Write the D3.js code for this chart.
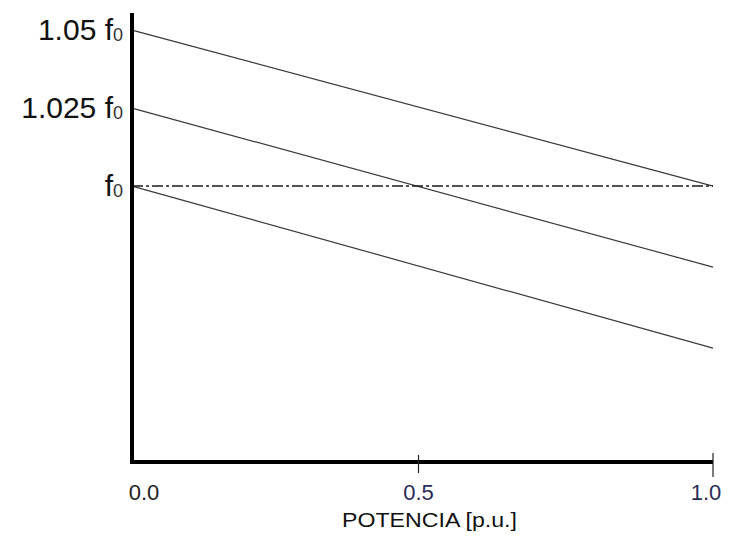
<!DOCTYPE html>
<html>
<head>
<meta charset="utf-8">
<script src="https://cdn.jsdelivr.net/npm/d3@7"></script>
<style>
  html, body { margin: 0; padding: 0; background: #fff; }
  svg { display: block; font-family: "Liberation Sans", Arial, sans-serif; }
</style>
</head>
<body>
<svg id="chart" width="731" height="537"></svg>
<script>
// Power axis (p.u.)
const powerTicks = [0.0, 0.5, 1.0];
const powerTickLabels = ["0.0", "0.5", "1.0"];
const powerTickColors = ["#222222", "#2a2a58", "#2a2a58"];

// Frequency reference levels (multiples of f0)
const freqLevels = [1.05, 1.025, 1.0];
const freqLabelMain = ["1.05 f", "1.025 f", "f"];

// Droop lines: frequency at P = 0 and at P = 1
const droopStart = [1.05, 1.025, 1.0];
const droopEnd = [1.0, 0.974, 0.948];

// Nominal frequency (dash-dot reference)
const nominal = 1.0;

const svg = d3.select("#chart");

const x = d3.scaleLinear().domain([0, 1]).range([132, 713]);
const y = d3.scaleLinear().domain([0.9115, 1.0555]).range([462, 13]);

// Droop lines
const lineGen = d3.line().x(d => x(d[0])).y(d => y(d[1]));
droopStart.forEach((s, i) => {
  svg.append("path")
    .attr("d", lineGen([[0, s], [1, droopEnd[i]]]))
    .attr("fill", "none")
    .attr("stroke", "#3a3a3a")
    .attr("stroke-width", 1.2);
});

// Nominal frequency dash-dot line
svg.append("path")
  .attr("d", lineGen([[0, nominal], [1, nominal]]))
  .attr("fill", "none")
  .attr("stroke", "#1a1a1a")
  .attr("stroke-width", 1.4)
  .attr("stroke-dasharray", "11,3,3,3");

// Y axis (thick line, labels only)
svg.append("line")
  .attr("x1", x(0)).attr("x2", x(0))
  .attr("y1", y(1.0555)).attr("y2", y(0.9115) + 2)
  .attr("stroke", "#000").attr("stroke-width", 4);

freqLevels.forEach((v, i) => {
  const t = svg.append("text")
    .attr("x", 123)
    .attr("y", y(v) + 10)
    .attr("text-anchor", "end")
    .attr("font-size", 30)
    .attr("fill", "#111");
  t.append("tspan").text(freqLabelMain[i]);
  t.append("tspan").attr("font-size", 18).attr("dy", 1).attr("fill", "#333").text("0");
});

// X axis (thick line)
svg.append("line")
  .attr("x1", x(0) - 2).attr("x2", x(1))
  .attr("y1", y(0.9115)).attr("y2", y(0.9115))
  .attr("stroke", "#000").attr("stroke-width", 4);

// X tick marks at 0.5 and 1.0
powerTicks.slice(1).forEach((v, i) => {
  svg.append("line")
    .attr("x1", x(v) - (i === 0 ? 4 : 0)).attr("x2", x(v) - (i === 0 ? 4 : 0))
    .attr("y1", y(0.9115) - (i === 0 ? 7 : 9))
    .attr("y2", y(0.9115) + (i === 0 ? 11 : 15))
    .attr("stroke", "#222").attr("stroke-width", 1.2);
});

// X tick labels
const labelOffsets = [12, -4, -7];
powerTicks.forEach((v, i) => {
  svg.append("text")
    .attr("x", x(v) + labelOffsets[i])
    .attr("y", 500)
    .attr("text-anchor", "middle")
    .attr("font-size", 22)
    .attr("fill", powerTickColors[i])
    .text(powerTickLabels[i]);
});

// X axis title
svg.append("text")
  .attr("x", 342)
  .attr("y", 527)
  .attr("font-size", 20)
  .attr("textLength", 175)
  .attr("lengthAdjust", "spacingAndGlyphs")
  .attr("fill", "#111")
  .text("POTENCIA [p.u.]");
</script>
</body>
</html>
